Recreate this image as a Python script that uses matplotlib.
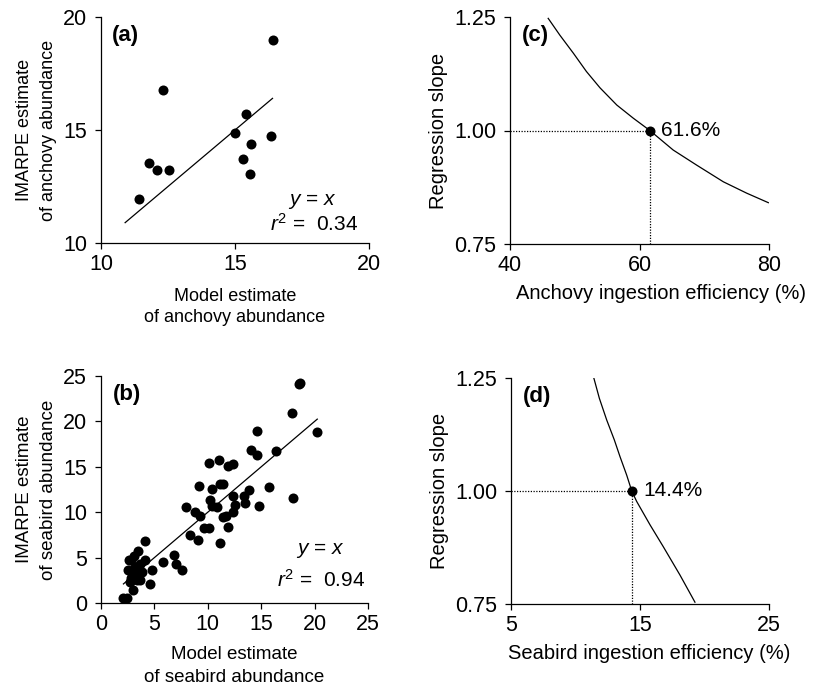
import numpy as np
import matplotlib
matplotlib.use("Agg")
import matplotlib.pyplot as plt

plt.rcParams['font.family'] = ['Liberation Sans', 'DejaVu Sans']
plt.rcParams['mathtext.fontset'] = 'custom'
plt.rcParams['mathtext.rm'] = 'Liberation Sans'
plt.rcParams['mathtext.it'] = 'Liberation Sans:italic'
plt.rcParams['axes.linewidth'] = 0.9
plt.rcParams['xtick.major.width'] = 0.9
plt.rcParams['ytick.major.width'] = 0.9
plt.rcParams['xtick.major.size'] = 4
plt.rcParams['ytick.major.size'] = 4
plt.rcParams['xtick.major.pad'] = 4
plt.rcParams['ytick.major.pad'] = 6

# (a) anchovy: model vs IMARPE
anch_model = [16.4, 12.3, 15.4, 15.0, 16.35, 15.6, 15.3, 11.8, 12.1, 12.55, 15.55, 11.4]
anch_imarpe = [19.0, 16.75, 15.7, 14.85, 14.75, 14.4, 13.7, 13.55, 13.25, 13.25, 13.05, 11.95]
anch_line = [10.9, 16.4]

# (b) seabirds: model vs IMARPE
bird_model = [18.5, 18.6, 17.85, 20.2, 14.6, 14.0, 14.65, 16.35, 10.1, 11.05, 11.85, 12.35,
              9.2, 10.35, 11.15, 11.4, 13.9, 15.75, 18.0, 10.2, 10.4, 10.9, 7.95, 8.8,
              9.3, 12.4, 12.55, 12.35, 13.35, 13.5, 14.75, 11.4, 11.7, 11.85, 9.65, 10.15,
              8.35, 9.1, 11.15, 4.1, 6.85, 5.85, 7.0, 7.55, 4.8, 4.6, 3.5, 3.05,
              4.1, 2.65, 3.65, 2.55, 3.05, 3.8, 2.85, 3.35, 3.65, 2.95, 2.7, 3.2,
              2.1, 2.4, 2.8, 3.4]
bird_imarpe = [24.1, 24.2, 20.95, 18.8, 18.9, 16.85, 16.25, 16.7, 15.45, 15.75, 15.1, 15.3,
               12.9, 12.55, 13.1, 13.1, 12.5, 12.8, 11.6, 11.35, 10.7, 10.6, 10.55, 10.05,
               9.6, 11.8, 10.8, 10.05, 11.8, 11.05, 10.7, 9.5, 9.6, 8.4, 8.3, 8.25,
               7.5, 6.95, 6.6, 6.85, 5.3, 4.55, 4.3, 3.65, 3.65, 2.05, 5.75, 5.2,
               4.75, 4.75, 4.35, 3.65, 3.3, 3.45, 2.7, 2.5, 2.5, 1.45, 2.35, 4.0,
               0.5, 0.6, 4.75, 3.1]
bird_line = [2.1, 20.25]

# (c) regression slope vs anchovy ingestion efficiency
anch_eff = [45.9, 47.7, 49.8, 51.8, 53.9, 56.5, 59.05, 61.6, 65.2, 68.8, 72.95, 76.55, 79.9]
anch_slope = [1.247, 1.210, 1.170, 1.130, 1.094, 1.056, 1.027, 1.0, 0.957, 0.924, 0.887, 0.862, 0.841]
anch_best = 61.6

# (d) regression slope vs seabird ingestion efficiency
bird_eff = [11.43, 11.85, 12.42, 13.01, 13.45, 13.97, 14.36, 14.74, 15.78, 16.8, 18.1, 19.26]
bird_slope = [1.249, 1.205, 1.157, 1.113, 1.076, 1.035, 1.0, 0.977, 0.925, 0.877, 0.814, 0.754]
bird_best = 14.4

W, H = 817, 688
fig = plt.figure(figsize=(W / 100, H / 100), dpi=100)

def box(l, t, r, b):
    return [l / W, 1 - b / H, (r - l) / W, (b - t) / H]

ax_a = fig.add_axes(box(101, 17, 369, 243))
ax_b = fig.add_axes(box(101, 376, 368, 603))
ax_c = fig.add_axes(box(510, 17, 769, 244))
ax_d = fig.add_axes(box(511, 378, 769, 604))

TICK = 15.5
TXT = 15
LAB = 13
TAG = 16
MS = 52

for ax in (ax_a, ax_b, ax_c, ax_d):
    ax.spines['top'].set_visible(False)
    ax.spines['right'].set_visible(False)
    ax.tick_params(labelsize=TICK, direction='out')

# panel a
ax_a.scatter(anch_model, anch_imarpe, s=MS, color='black', zorder=3, linewidths=0)
ax_a.plot(anch_line, anch_line, color='black', lw=0.9)
ax_a.set_xlim(10, 20)
ax_a.set_ylim(10, 20)
ax_a.set_xticks([10, 15, 20])
ax_a.set_yticks([10, 15, 20])
ax_a.set_xlabel("Model estimate\nof anchovy abundance", fontsize=LAB, labelpad=9, linespacing=1.3)
ax_a.set_ylabel("IMARPE estimate\nof anchovy abundance", fontsize=LAB, labelpad=4, linespacing=1.6)
ax_a.text(17.9, 11.85, "$\\it{y}$ = $\\it{x}$", fontsize=TXT, ha='center', va='center')
ax_a.text(17.95, 10.85, "$\\it{r}^2$ =  0.34", fontsize=TXT, ha='center', va='center')
ax_a.text(0.04, 0.92, "(a)", transform=ax_a.transAxes, fontsize=TAG, fontweight='bold', va='center')

# panel b
ax_b.scatter(bird_model, bird_imarpe, s=MS, color='black', zorder=3, linewidths=0)
ax_b.plot(bird_line, bird_line, color='black', lw=0.9)
ax_b.set_xlim(0, 25)
ax_b.set_ylim(0, 25)
ax_b.set_xticks(range(0, 26, 5))
ax_b.set_yticks(range(0, 26, 5))
ax_b.set_xlabel("Model estimate\nof seabird abundance", fontsize=LAB + 0.5, labelpad=8, linespacing=1.45)
ax_b.set_ylabel("IMARPE estimate\nof seabird abundance", fontsize=LAB + 0.5, labelpad=4, linespacing=1.55)
ax_b.text(20.5, 5.8, "$\\it{y}$ = $\\it{x}$", fontsize=TXT, ha='center', va='center')
ax_b.text(20.6, 2.6, "$\\it{r}^2$ =  0.94", fontsize=TXT, ha='center', va='center')
ax_b.text(0.045, 0.92, "(b)", transform=ax_b.transAxes, fontsize=TAG, fontweight='bold', va='center')

# panels c, d
def slope_panel(ax, eff, slope, best, xlim, xticks, xlabel, xlab_x, tag):
    ax.plot(eff, slope, color='black', lw=0.9)
    ax.plot([xlim[0], best], [1.0, 1.0], color='black', lw=0.9, ls=(0, (1, 1.2)))
    ax.plot([best, best], [0.75, 1.0], color='black', lw=0.9, ls=(0, (1, 1.2)))
    ax.scatter([best], [1.0], s=MS, color='black', zorder=3, linewidths=0)
    ax.annotate(f"{best}%", (best, 1.0), xytext=(8, 0), textcoords='offset points',
                fontsize=TXT, va='center', ha='left')
    ax.set_xlim(*xlim)
    ax.set_ylim(0.75, 1.25)
    ax.set_xticks(xticks)
    ax.set_yticks([0.75, 1.0, 1.25])
    ax.set_yticklabels(["0.75", "1.00", "1.25"])
    ax.set_xlabel(xlabel, fontsize=14.5, labelpad=6)
    ax.xaxis.label.set_x(xlab_x)
    ax.set_ylabel("Regression slope", fontsize=14.5, labelpad=4)
    ax.text(0.045, 0.92, tag, transform=ax.transAxes, fontsize=TAG, fontweight='bold', va='center')

slope_panel(ax_c, anch_eff, anch_slope, anch_best, (40, 80), [40, 60, 80],
            "Anchovy ingestion efficiency (%)", 0.583, "(c)")
slope_panel(ax_d, bird_eff, bird_slope, bird_best, (5, 25), [5, 15, 25],
            "Seabird ingestion efficiency (%)", 0.535, "(d)")

fig.savefig("out.png", dpi=100)
